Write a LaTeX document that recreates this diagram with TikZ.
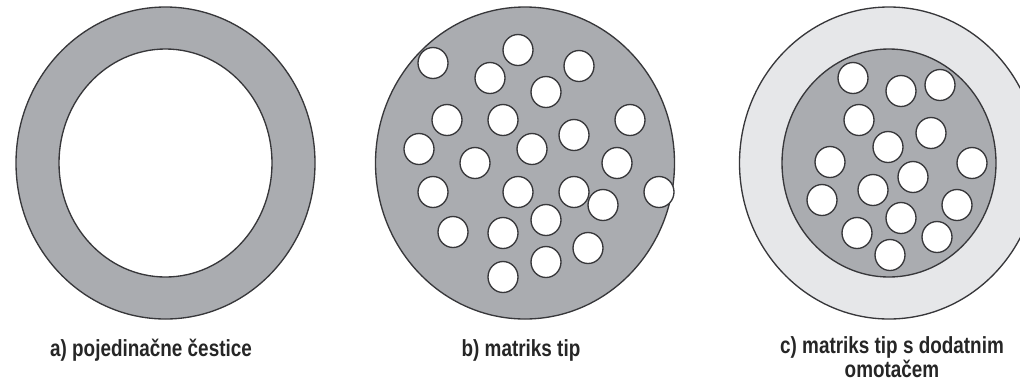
\documentclass[tikz,border=0pt]{standalone}
\usepackage{fontspec}
\newfontfamily\capfont{Liberation Sans}[FakeStretch=0.81]
\definecolor{matrixgray}{RGB}{170,172,176}
\definecolor{shellgray}{RGB}{230,231,233}
\definecolor{rimgray}{RGB}{55,55,58}

\begin{document}
\begin{tikzpicture}[x=0.75pt,y=-0.75pt,
rim/.style={draw=rimgray,line width=1pt},
core/.style={rim,fill=matrixgray},
shell/.style={rim,fill=shellgray},
pore/.style={rim,fill=white},
caption/.style={font={\capfont\bfseries\fontsize{17.5}{16.5}\selectfont},text=black!85,align=center,inner sep=0pt,anchor=base}]
\useasboundingbox (0,0) rectangle (1020,383);
\clip (0,0) rectangle (1020,383);
% a) single particle
\draw[core] (165.5,163) ellipse [x radius=149.5,y radius=156];
\draw[pore] (165.5,163) ellipse [x radius=106.5,y radius=114];
% b) matrix type
\draw[core] (525,163) ellipse [x radius=149.5,y radius=156];
\foreach \px/\py in {433/63,518/50,490/78,579/66,546/92,447/120,503/120,574/135,630/120,
  419/149,475/163,532/149,617/163,433/192,518/192,574/192,603/205,659/192,546/220,
  453/232,503/233,588/248,546/262,503/277}
  \draw[pore] (\px,\py) ellipse [x radius=15,y radius=15.5];
% c) matrix type with coating
\draw[shell] (889,163) ellipse [x radius=149.5,y radius=156];
\draw[core] (889,163) ellipse [x radius=107,y radius=114];
\foreach \px/\py in {853/78,901/91,940/85,859/120,931/133,888/147,830/162,972/163,
  913/177,873/190,822/200,957/205,901/218,857/233,937/237,890/255}
  \draw[pore] (\px,\py) ellipse [x radius=15,y radius=15.5];
\node[caption] (capa) at (151,356) {a) pojedinačne čestice};
\node[caption] (capb) at (521,356) {b) matriks tip};
\node[caption] (capc) at (892,377) {c) matriks tip s dodatnim\\omotačem};
\end{tikzpicture}
\end{document}
